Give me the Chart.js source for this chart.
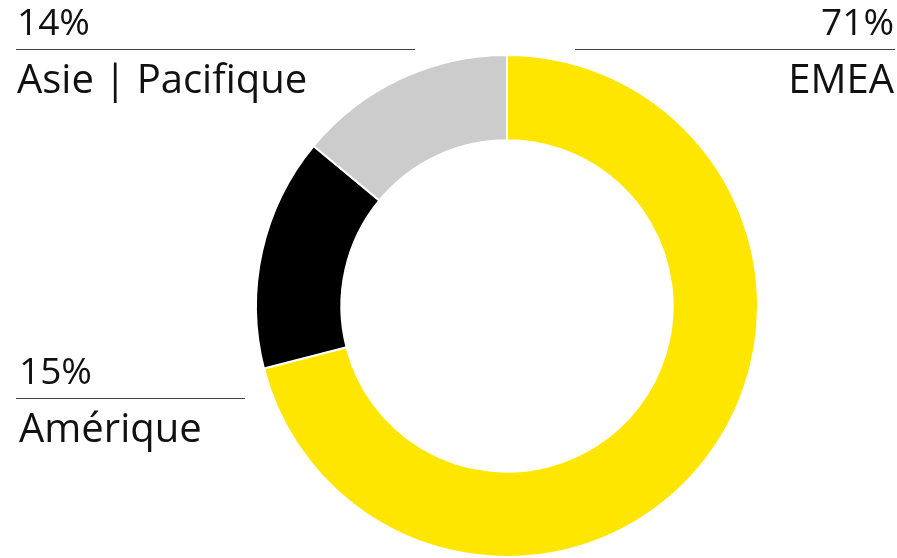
<!DOCTYPE html>
<html><head><meta charset="utf-8">
<script src="https://cdn.jsdelivr.net/npm/chart.js@4"></script>
<style>html,body{margin:0;padding:0;background:#fff;}#wrap{width:897px;height:558px;position:relative;}</style>
</head><body><div id="wrap"><canvas id="c" width="897" height="558"></canvas></div>
<script>
const categories = ["EMEA", "Amérique", "Asie | Pacifique"];
const values = [71, 15, 14];
const valueLabels = ["71%", "15%", "14%"];
const colors = ["#FFE600", "#000000", "#CCCCCC"];

const labelPlugin = {
  id: 'labels',
  afterDraw(chart) {
    const ctx = chart.ctx;
    ctx.save();
    ctx.fillStyle = '#111';
    ctx.strokeStyle = '#444';
    ctx.lineWidth = 1.2;
    ctx.textBaseline = 'alphabetic';
    // spec: [index, x, lineX1, lineX2, lineY, align]
    const spec = [
      [0, 894, 575, 895, 49, 'right'],
      [1, 19, 16, 245, 398, 'left'],
      [2, 17, 16, 415, 49, 'left']
    ];
    spec.forEach(([i, x, x1, x2, y, align]) => {
      ctx.textAlign = align;
      ctx.font = '37px "Open Sans"';
      ctx.fillText(valueLabels[i], x, y - 14);
      ctx.font = '40px "Open Sans"';
      ctx.fillText(categories[i], x, y + 44);
      ctx.beginPath();
      ctx.moveTo(x1, y + 0.5);
      ctx.lineTo(x2, y + 0.5);
      ctx.stroke();
    });
    ctx.restore();
  }
};

new Chart(document.getElementById('c'), {
  type: 'doughnut',
  data: {
    labels: categories,
    datasets: [{
      data: values,
      backgroundColor: colors,
      borderColor: '#fff',
      borderWidth: 2
    }]
  },
  options: {
    responsive: false,
    animation: false,
    cutout: '66%',
    layout: { padding: { top: 54, bottom: 0, left: 255, right: 138 } },
    plugins: { legend: { display: false }, tooltip: { enabled: false } }
  },
  plugins: [labelPlugin]
});
</script></body></html>
